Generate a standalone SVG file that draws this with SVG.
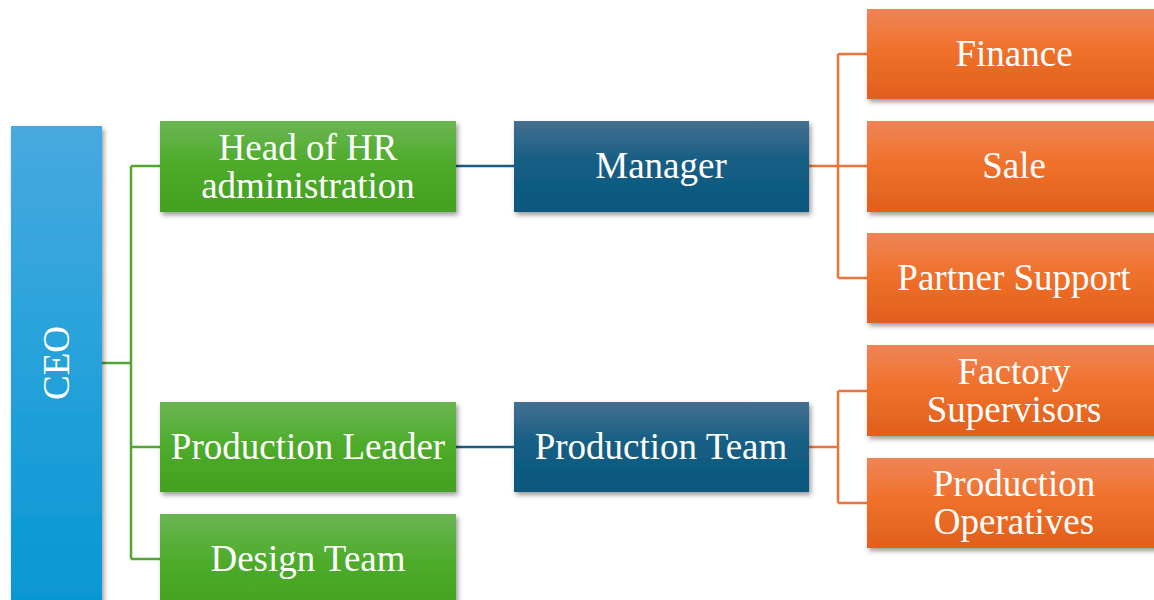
<svg xmlns="http://www.w3.org/2000/svg" width="1154" height="600" viewBox="0 0 1154 600">
  <defs>
    <linearGradient id="gBlue" x1="0" y1="0" x2="0" y2="1">
      <stop offset="0" stop-color="#47a9df"/>
      <stop offset="0.35" stop-color="#2fa4dc"/>
      <stop offset="1" stop-color="#0497d2"/>
    </linearGradient>
    <linearGradient id="gGreen" x1="0" y1="0" x2="0" y2="1">
      <stop offset="0" stop-color="#6bb553"/>
      <stop offset="0.45" stop-color="#4fac2c"/>
      <stop offset="1" stop-color="#43a020"/>
    </linearGradient>
    <linearGradient id="gNavy" x1="0" y1="0" x2="0" y2="1">
      <stop offset="0" stop-color="#456f90"/>
      <stop offset="0.45" stop-color="#155e84"/>
      <stop offset="1" stop-color="#0b577e"/>
    </linearGradient>
    <linearGradient id="gOrange" x1="0" y1="0" x2="0" y2="1">
      <stop offset="0" stop-color="#ee8557"/>
      <stop offset="0.45" stop-color="#f0712b"/>
      <stop offset="1" stop-color="#e15f1a"/>
    </linearGradient>
    <filter id="shadow" x="-10%" y="-10%" width="130%" height="140%">
      <feDropShadow dx="2" dy="3" stdDeviation="2.5" flood-color="#000" flood-opacity="0.4"/>
    </filter>
  </defs>
  <style>
    .box { filter: url(#shadow); }
    .lbl { font-family: "Liberation Serif", "Times New Roman", serif; font-size: 37px; fill: #ffffff; text-anchor: middle; }
    .lnG { stroke: #52a733; stroke-width: 2.5; fill: none; }
    .lnB { stroke: #1b5b80; stroke-width: 2.5; fill: none; }
    .lnO { stroke: #ec7339; stroke-width: 2.5; fill: none; }
  </style>

  <!-- connectors -->
  <g id="connectors">
    <path class="lnG" d="M102 363 H131 M131 166 V559 M131 166 H160 M131 447 H160 M131 559 H160"/>
    <path class="lnB" d="M456 166 H514 M456 447 H514"/>
    <path class="lnO" d="M809 166 H838 M838 54 V278 M838 54 H867 M838 166 H867 M838 278 H867"/>
    <path class="lnO" d="M809 447 H838 M838 391 V503 M838 391 H867 M838 503 H867"/>
  </g>

  <!-- root -->
  <g id="ceo">
    <rect class="box" x="11" y="126" width="91" height="490" fill="url(#gBlue)"/>
    <text class="lbl" transform="translate(69 363) rotate(-90)">CEO</text>
  </g>

  <!-- second level -->
  <g id="head-hr">
    <rect class="box" x="160" y="121" width="296" height="91" fill="url(#gGreen)"/>
    <text class="lbl" x="308" y="160">Head of HR</text>
    <text class="lbl" x="308" y="198">administration</text>
  </g>
  <g id="production-leader">
    <rect class="box" x="160" y="402" width="296" height="90" fill="url(#gGreen)"/>
    <text class="lbl" x="308" y="459">Production Leader</text>
  </g>
  <g id="design-team">
    <rect class="box" x="160" y="514" width="296" height="100" fill="url(#gGreen)"/>
    <text class="lbl" x="308" y="571">Design Team</text>
  </g>

  <!-- third level -->
  <g id="manager">
    <rect class="box" x="514" y="121" width="295" height="91" fill="url(#gNavy)"/>
    <text class="lbl" x="661" y="178">Manager</text>
  </g>
  <g id="production-team">
    <rect class="box" x="514" y="402" width="295" height="90" fill="url(#gNavy)"/>
    <text class="lbl" x="661" y="459">Production Team</text>
  </g>

  <!-- fourth level -->
  <g id="finance">
    <rect class="box" x="867" y="9" width="295" height="90" fill="url(#gOrange)"/>
    <text class="lbl" x="1014" y="66">Finance</text>
  </g>
  <g id="sale">
    <rect class="box" x="867" y="121" width="295" height="91" fill="url(#gOrange)"/>
    <text class="lbl" x="1014" y="178">Sale</text>
  </g>
  <g id="partner-support">
    <rect class="box" x="867" y="233" width="295" height="90" fill="url(#gOrange)"/>
    <text class="lbl" x="1014" y="290">Partner Support</text>
  </g>
  <g id="factory-supervisors">
    <rect class="box" x="867" y="345" width="295" height="91" fill="url(#gOrange)"/>
    <text class="lbl" x="1014" y="384">Factory</text>
    <text class="lbl" x="1014" y="422">Supervisors</text>
  </g>
  <g id="production-operatives">
    <rect class="box" x="867" y="458" width="295" height="90" fill="url(#gOrange)"/>
    <text class="lbl" x="1014" y="496">Production</text>
    <text class="lbl" x="1014" y="534">Operatives</text>
  </g>
</svg>
